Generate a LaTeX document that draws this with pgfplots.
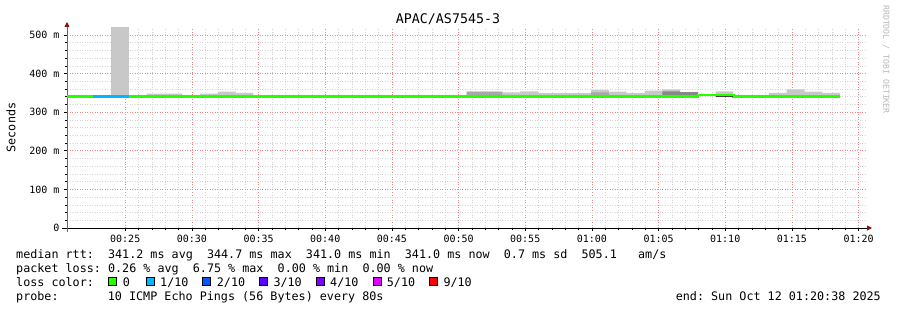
\documentclass[border=0pt]{standalone}
\usepackage{fontspec}
\usepackage{pgfplots}
\pgfplotsset{compat=1.18}
\usetikzlibrary{arrows.meta}
\newfontfamily\dvm{DejaVu Sans Mono}
\definecolor{l0}{HTML}{26FF00}
\definecolor{l1}{HTML}{00B8FF}
\definecolor{l2}{HTML}{0059FF}
\definecolor{l3}{HTML}{5E00FF}
\definecolor{l4}{HTML}{7E00FF}
\definecolor{l5}{HTML}{DD00FF}
\definecolor{l9}{HTML}{FF0000}
\definecolor{smokeA}{HTML}{C8C8C8}
\definecolor{smokeB}{HTML}{A8A8A8}
\definecolor{smokeC}{HTML}{888888}
\definecolor{mgrid}{HTML}{F08888}
\definecolor{mingrid}{HTML}{D4D4D4}
\definecolor{arrowred}{HTML}{8B1010}
\newcommand{\legfont}{\dvm\fontsize{11.74}{14}\selectfont}
\frenchspacing
\begin{document}
\frenchspacing
\begin{tikzpicture}[x=1pt,y=1pt]
\path[use as bounding box] (0,0) rectangle (897,-310);
\begin{axis}[
  at={(67pt,-228pt)}, anchor=south west,
  scale only axis, width=800pt, height=200pt,
  xmin=20.633, xmax=80.633, ymin=0, ymax=518,
  axis x line*=bottom, axis y line*=left,
  x axis line style={black, line width=0.9pt, shorten <=-5pt, shorten >=-5pt,
     -{Triangle[length=5pt,width=5pt,color=arrowred]}},
  y axis line style={black!60, line width=0.9pt, shorten <=-4pt, shorten >=-6pt,
     -{Triangle[length=5pt,width=5pt,color=arrowred]}},
  xtick={25,30,35,40,45,50,55,60,65,70,75,80},
  xticklabels={00:25,00:30,00:35,00:40,00:45,00:50,00:55,01:00,01:05,01:10,01:15,01:20},
  minor x tick num=4,
  ytick={0,100,200,300,400,500},
  yticklabels={0,100 m,200 m,300 m,400 m,500 m},
  minor y tick num=4,
  grid=both,
  major grid style={draw=mgrid, line width=0.7pt, dash pattern=on 1pt off 1.5pt},
  minor grid style={draw=mingrid, line width=0.6pt, dash pattern=on 1pt off 1.5pt},
  tick align=outside,
  major tick length=3pt, minor tick length=2pt,
  tick style={black, line width=0.6pt},
  xticklabel style={font=\dvm\fontsize{10}{12}\selectfont, yshift=-1pt},
  yticklabel style={font=\dvm\fontsize{10}{12}\selectfont, xshift=-1pt},
  clip=true,
]
% smoke (light)
\addplot[fill=smokeA, draw=none] coordinates {
 (23.95,341) (23.95,520) (25.28,520) (25.28,341)
 (26.61,341) (26.61,348) (29.28,348) (29.28,341)
 (30.61,341) (30.61,348) (31.95,348) (31.95,353) (33.28,353) (33.28,350) (34.61,350) (34.61,341)
 (50.61,341) (50.61,353) (53.28,353) (53.28,351) (54.61,351) (54.61,354) (55.95,354)
 (55.95,349) (59.95,349) (59.95,358) (61.28,358) (61.28,353) (62.61,353) (62.61,349.5)
 (63.95,349.5) (63.95,356) (65.28,356) (65.28,359) (66.61,359) (66.61,352) (67.95,352) (67.95,341)
 (69.28,341) (69.28,354) (70.61,354) (70.61,341)
 (73.28,341) (73.28,350) (74.61,350) (74.61,359) (75.95,359) (75.95,353) (77.28,353)
 (77.28,350) (78.61,350) (78.61,341)
} --cycle;
% smoke (medium)
\addplot[fill=smokeB, draw=none] coordinates {
 (50.61,341) (50.61,353) (53.28,353) (53.28,341)
 (59.95,341) (59.95,351) (61.28,351) (61.28,341)
} --cycle;
% smoke (dark)
\addplot[fill=smokeC, draw=none] coordinates {
 (65.28,341) (65.28,354) (66.61,354) (66.61,352) (67.95,352) (67.95,341)
} --cycle;
% median rtt, coloured by loss
\addplot[const plot, draw=l0, line width=2.6pt] coordinates {(20.633,341) (22.61,341)};
\addplot[const plot, draw=l1, line width=2.6pt] coordinates {(22.61,341) (25.28,341)};
\addplot[const plot, draw=l0, line width=2.6pt] coordinates {(25.28,341) (67.95,344.7) (70.61,341) (78.61,341)};
\addplot[const plot, draw=black!75, line width=1pt] coordinates {(69.28,340.3) (70.61,340.3)};
\end{axis}
% title
\node[anchor=base, font=\dvm\fontsize{13.3}{16}\selectfont] at (448,-24) {APAC/AS7545-3};
% y label
\node[anchor=base, rotate=90, font=\legfont] at (15.5,-127.5) {Seconds};
% watermark
\node[anchor=west, rotate=-90, inner sep=0pt, text=black!28, font=\dvm\fontsize{8.2}{10}\selectfont] at (886,-5) {RRDTOOL / TOBI OETIKER};
% legend
\node[anchor=base west, inner sep=0pt, font=\legfont] at (16,-258) {median rtt:\ \ 341.2 ms avg\ \ 344.7 ms max\ \ 341.0 ms min\ \ 341.0 ms now\ \ 0.7 ms sd\ \ 505.1\ \ \ am/s};
\node[anchor=base west, inner sep=0pt, font=\legfont] at (16,-272) {packet loss: 0.26 \% avg\ \ 6.75 \% max\ \ 0.00 \% min\ \ 0.00 \% now};
\node[anchor=base west, inner sep=0pt, font=\legfont] at (16,-286) {loss color:};
\foreach \xs/\xl/\c/\t in {108.3/122.7/l0/0, 145.7/160/l1/1\slash 10, 202.3/216.7/l2/2\slash 10, 259.3/273.3/l3/3\slash 10, 316/330/l4/4\slash 10, 372.7/386.7/l5/5\slash 10, 429.3/443.3/l9/9\slash 10}{
  \node[draw=black, line width=0.8pt, fill=\c, minimum size=7.8pt, inner sep=0pt, anchor=south west] at (\xs,-286) {};
  \node[anchor=base west, inner sep=0pt, font=\legfont] at (\xl,-286) {\t};
}
\node[anchor=base west, inner sep=0pt, font=\legfont] at (16,-300) {probe:};
\node[anchor=base west, inner sep=0pt, font=\legfont] at (107.7,-300) {10 ICMP Echo Pings (56 Bytes) every 80s};
\node[anchor=base east, inner sep=0pt, font=\legfont] at (881,-300) {end: Sun Oct 12 01:20:38 2025};
\end{tikzpicture}
\end{document}
